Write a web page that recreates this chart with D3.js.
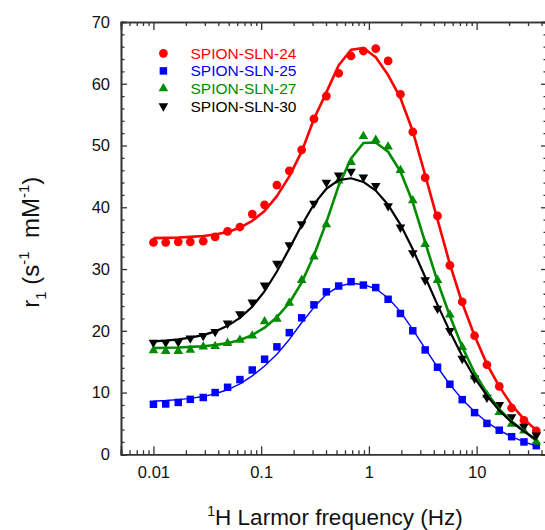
<!DOCTYPE html>
<html>
<head>
<meta charset="utf-8">
<script src="https://cdn.jsdelivr.net/npm/d3@7/dist/d3.min.js"></script>
<style>
  html, body { margin: 0; padding: 0; background: #fff; }
  svg { display: block; }
  text { font-family: "Liberation Sans", Arial, sans-serif; }
</style>
</head>
<body>
<svg id="chart" width="545" height="530"></svg>
<script>
// ---- data ----
const freq = [0.01, 0.013, 0.017, 0.022, 0.029, 0.0374, 0.0488, 0.0635, 0.0827, 0.1076,
  0.14, 0.1825, 0.2376, 0.309, 0.403, 0.5245, 0.683, 0.889, 1.158, 1.508,
  1.963, 2.556, 3.33, 4.334, 5.644, 7.35, 9.57, 12.46, 16.22, 21.12, 27.5, 35.8];

const seriesNames = ["SPION-SLN-24", "SPION-SLN-25", "SPION-SLN-27", "SPION-SLN-30"];

const sln24 = [34.3, 34.3, 34.4, 34.4, 34.5, 35.2, 36.1, 36.8, 38.9, 40.4,
  43.6, 45.9, 49.3, 54.3, 58.0, 61.7, 64.5, 65.3, 65.7, 63.7,
  58.3, 52.2, 44.8, 38.6, 30.6, 24.7, 19.2, 14.5, 11.0, 7.5, 5.5, 3.8];
const sln25 = [8.1, 8.15, 8.4, 8.9, 9.2, 10.0, 10.85, 12.1, 13.65, 15.4,
  17.4, 19.7, 22.1, 24.2, 26.3, 27.25, 27.95, 27.4, 27.0, 25.1,
  22.8, 20.0, 16.9, 14.1, 11.35, 8.85, 6.75, 5.0, 3.9, 2.85, 2.0, 1.4];
const sln27 = [16.8, 16.7, 16.7, 16.9, 17.4, 17.5, 18.0, 18.5, 19.2, 21.5,
  21.9, 24.5, 28.2, 32.0, 37.2, 44.3, 47.3, 51.5, 50.9, 49.8,
  46.0, 41.1, 34.0, 28.2, 22.6, 17.35, 12.6, 9.6, 6.8, 4.9, 3.8, 2.0];
const sln30 = [18.1, 18.1, 18.2, 18.8, 19.2, 19.85, 21.2, 22.7, 24.6, 27.35,
  30.9, 33.9, 37.3, 40.6, 44.0, 45.2, 45.8, 44.85, 43.5, 40.2,
  36.75, 32.6, 28.2, 23.6, 20.0, 15.5, 12.3, 9.2, 8.0, 6.05, 4.5, 3.1];

// fitted curves evaluated at the same frequencies
const fit24 = [35.0, 35.05, 35.1, 35.2, 35.35, 35.6, 36.0, 36.7, 37.8, 39.4,
  41.8, 45.0, 49.0, 54.3, 58.6, 63.0, 65.5, 65.8, 64.3, 61.4,
  57.7, 52.3, 45.2, 38.0, 30.8, 24.5, 19.2, 14.6, 11.0, 8.0, 5.7, 3.9];
const fit25 = [8.6, 8.7, 8.85, 9.05, 9.35, 9.8, 10.45, 11.4, 12.7, 14.3,
  16.2, 18.6, 21.3, 23.8, 25.9, 27.2, 27.7, 27.5, 26.8, 25.3,
  23.1, 20.2, 17.1, 14.1, 11.3, 8.9, 6.9, 5.2, 3.9, 2.85, 2.0, 1.35];
const fit27 = [17.2, 17.25, 17.3, 17.4, 17.5, 17.7, 18.0, 18.5, 19.3, 20.5,
  22.2, 24.5, 27.8, 32.2, 37.6, 43.5, 47.9, 50.4, 50.5, 49.0,
  45.8, 40.8, 34.3, 28.0, 22.4, 17.4, 13.2, 9.9, 7.3, 5.3, 3.8, 2.2];
const fit30 = [18.3, 18.4, 18.6, 18.9, 19.3, 19.9, 20.8, 22.1, 23.9, 26.4,
  29.6, 33.3, 37.1, 40.5, 43.0, 44.4, 44.7, 44.1, 42.7, 40.4,
  37.2, 33.2, 28.7, 24.2, 19.9, 15.9, 12.4, 9.5, 7.1, 5.2, 3.7, 2.4];

const xMajorTicks = [0.01, 0.1, 1, 10];
const xTickLabels = ["0.01", "0.1", "1", "10"];
const yMajorTicks = [0, 10, 20, 30, 40, 50, 60, 70];

// ---- layout / style ----
const colors = ["#ff0000", "#0000ff", "#008c00", "#000000"];
const symbols = ["circle", "square", "up", "down"];
const lineWidths = [2.6, 1.4, 2.6, 2.2];
const pointSets = [sln24, sln25, sln27, sln30];
const fitSets = [fit24, fit25, fit27, fit30];

const L = 121, R = 547, T = 22, B = 454.3;
const svg = d3.select("#chart");

const x = d3.scaleLog().domain([0.005, 45]).range([L, R]);
const y = d3.scaleLinear().domain([0, 70]).range([B, T]);

const axisColor = "#333";

// minor x ticks
const xMinor = [];
for (let e = -3; e <= 1; e++) {
  for (let m = 2; m <= 9; m++) {
    const v = m * Math.pow(10, e);
    if (v >= 0.005 && v <= 45) xMinor.push(v);
  }
}
const yMinor = d3.range(0, 71, 2).filter(v => v % 10 !== 0);

// bottom axis
const gB = svg.append("g").attr("transform", `translate(0,${B})`);
gB.call(d3.axisBottom(x).tickValues(xMajorTicks).tickSize(-8)
  .tickFormat((d, i) => xTickLabels[i]).tickPadding(12));
gB.append("g").call(d3.axisBottom(x).tickValues(xMinor).tickSize(-4).tickFormat(""));
// top axis
const gT = svg.append("g").attr("transform", `translate(0,${T})`);
gT.call(d3.axisTop(x).tickValues(xMajorTicks).tickSize(-8).tickFormat(""));
gT.append("g").call(d3.axisTop(x).tickValues(xMinor).tickSize(-4).tickFormat(""));
// left axis
const gL = svg.append("g").attr("transform", `translate(${L},0)`);
gL.call(d3.axisLeft(y).tickValues(yMajorTicks).tickSize(-6).tickPadding(11));
gL.append("g").call(d3.axisLeft(y).tickValues(yMinor).tickSize(-3.5).tickFormat(""));
// right axis
const gR = svg.append("g").attr("transform", `translate(${R},0)`);
gR.call(d3.axisRight(y).tickValues(yMajorTicks).tickSize(-6).tickFormat(""));
gR.append("g").call(d3.axisRight(y).tickValues(yMinor).tickSize(-3.5).tickFormat(""));

svg.selectAll(".domain").attr("stroke", axisColor).attr("stroke-width", 1.6);
svg.selectAll(".tick line").attr("stroke", axisColor).attr("stroke-width", 1.3);
svg.selectAll(".tick text").attr("font-size", 16.5).attr("fill", "#111")
  .attr("font-family", "'Liberation Sans', Arial, sans-serif");
svg.selectAll("g").attr("font-family", "'Liberation Sans', Arial, sans-serif");

// symbol generator
function symPath(kind) {
  if (kind === "circle") return d3.symbol().type(d3.symbolCircle).size(60)();
  if (kind === "square") return d3.symbol().type(d3.symbolSquare).size(56)();
  return d3.symbol().type(d3.symbolTriangle).size(40)();
}
function symTransform(kind, px, py) {
  return kind === "down" ? `translate(${px},${py}) rotate(180)` : `translate(${px},${py})`;
}

const line = d3.line().x((d, i) => x(freq[i])).y(d => y(d));

const order = [0, 1, 2, 3];
order.forEach(k => {
  const g = svg.append("g");
  g.selectAll("path.pt").data(pointSets[k]).enter().append("path")
    .attr("class", "pt")
    .attr("d", symPath(symbols[k]))
    .attr("transform", (d, i) => symTransform(symbols[k], x(freq[i]), y(d)))
    .attr("fill", colors[k]);
});
order.forEach(k => {
  svg.append("path").datum(fitSets[k])
    .attr("d", line)
    .attr("fill", "none")
    .attr("stroke", colors[k])
    .attr("stroke-width", lineWidths[k])
    .attr("stroke-linejoin", "round");
});

// legend
const legY0 = 53.3, legDY = 17.6;
seriesNames.forEach((name, k) => {
  const ly = legY0 + k * legDY;
  svg.append("path").attr("d", symPath(symbols[k]))
    .attr("transform", symTransform(symbols[k], 163.4, ly))
    .attr("fill", colors[k]);
  svg.append("text").attr("x", 190.5).attr("y", ly + 5.5)
    .attr("font-size", 15.5).attr("fill", colors[k]).text(name);
});

// axis titles
const xt = svg.append("text").attr("x", 335).attr("y", 525)
  .attr("text-anchor", "middle").attr("font-size", 22.5).attr("fill", "#111");
xt.append("tspan").attr("font-size", 14).attr("dy", -9).text("1");
xt.append("tspan").attr("dy", 9).text("H Larmor frequency (Hz)");

const yt = svg.append("text")
  .attr("transform", `translate(39,${(T + B) / 2 + 4}) rotate(-90)`)
  .attr("text-anchor", "middle").attr("font-size", 24).attr("fill", "#111");
yt.append("tspan").text("r");
yt.append("tspan").attr("font-size", 15).attr("dy", 7).text("1");
yt.append("tspan").attr("dy", -7).text(" (s");
yt.append("tspan").attr("font-size", 15).attr("dy", -10).text("-1");
yt.append("tspan").attr("dy", 10).text("\u00a0 mM");
yt.append("tspan").attr("font-size", 15).attr("dy", -10).text("-1");
yt.append("tspan").attr("dy", 10).text(")");
</script>
</body>
</html>
